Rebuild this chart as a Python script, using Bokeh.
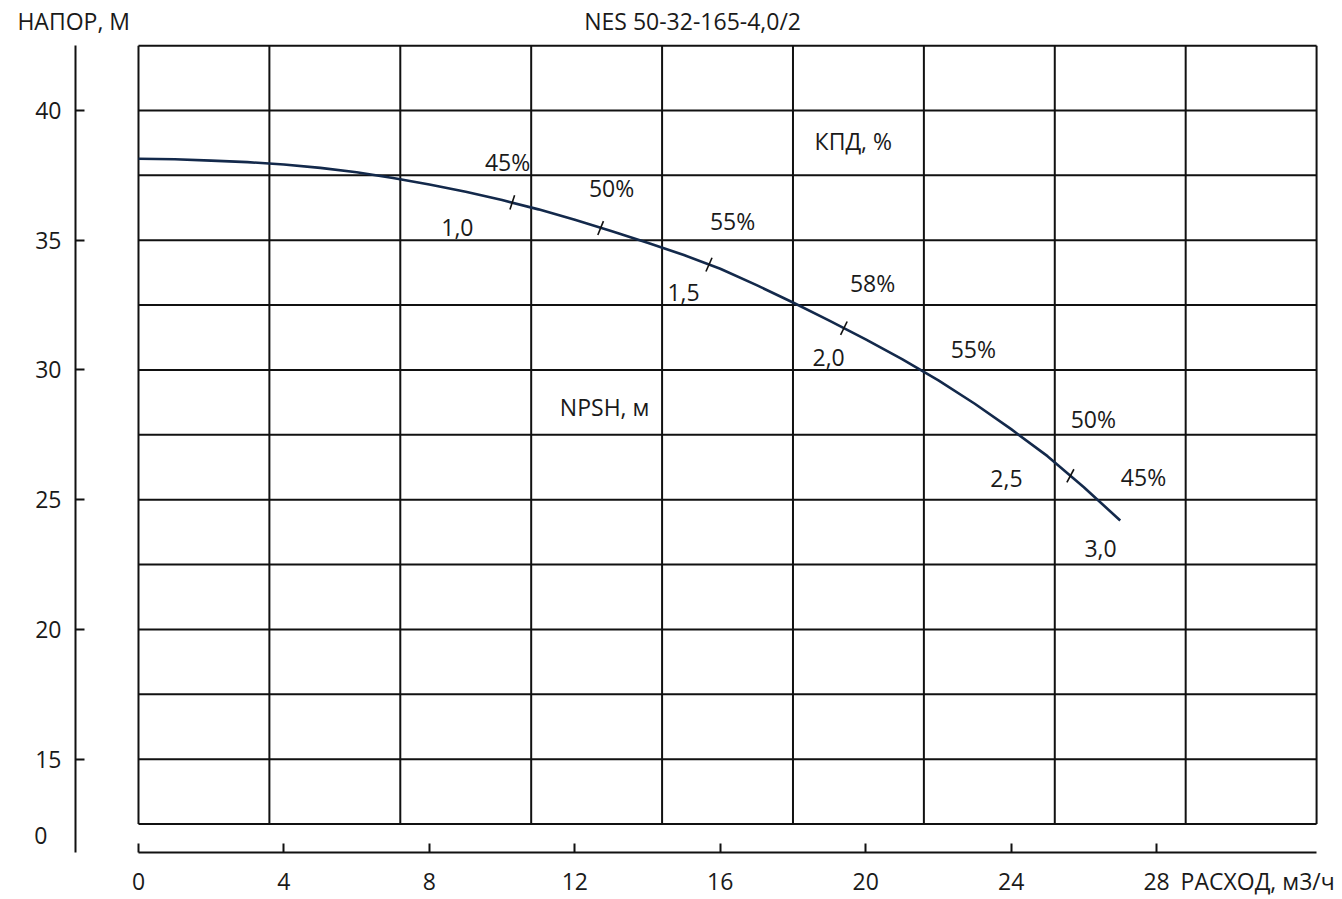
from bokeh.plotting import figure
from bokeh.models import Range1d, FixedTicker, Label, ColumnDataSource
from bokeh.core.properties import value
from bokeh.embed import file_html
from bokeh.resources import INLINE

# --- data ---
flow_q = [0, 1, 2, 3, 4, 5, 6, 7, 8, 9, 10, 11, 12, 13, 14, 15, 16, 17, 18, 19,
          20, 21, 22, 23, 24, 25, 26, 27]
head_h = [38.14, 38.12, 38.07, 38.01, 37.92, 37.79, 37.62, 37.40, 37.15, 36.87,
          36.55, 36.19, 35.79, 35.36, 34.90, 34.43, 33.90, 33.27, 32.60, 31.90,
          31.18, 30.42, 29.60, 28.70, 27.72, 26.68, 25.48, 24.20]

# small marks on the curve (NPSH / efficiency points)
mark_q = [10.28, 12.71, 15.69, 19.40, 25.63]
mark_h = [36.46, 35.47, 34.06, 31.61, 25.92]
mark_angle = [72, 68, 66, 64, 62]

npsh_text = ["1,0", "1,5", "2,0", "2,5", "3,0"]
npsh_x = [8.77, 14.99, 18.98, 23.87, 26.46]
npsh_y = [35.49, 32.99, 30.48, 25.82, 23.12]

eff_text = ["45%", "50%", "55%", "58%", "55%", "50%", "45%"]
eff_x = [10.15, 13.01, 16.34, 20.19, 22.96, 26.26, 27.64]
eff_y = [38.03, 37.03, 35.76, 33.37, 30.79, 28.13, 25.86]

x_ticks = [0, 4, 8, 12, 16, 20, 24, 28]
y_ticks = [15, 20, 25, 30, 35, 40]
grid_x = [3.6 * i for i in range(10)]
grid_y = [12.5 + 2.5 * i for i in range(13)]

FONT = "Open Sans"
FS = "23px"
TXT = "#1a1a1a"
LINE = "#111111"

# frame fills the whole figure; axes are drawn at fixed locations inside it
X0, X1 = -3.795, 33.113
Y0, Y1 = 9.595, 44.239
YAX_AT = -1.733
XAX_AT = 11.407

p = figure(width=1342, height=899, output_backend="svg", toolbar_location=None,
           x_range=Range1d(X0, X1), y_range=Range1d(Y0, Y1),
           min_border_left=0, min_border_top=0, min_border_right=0, min_border_bottom=0)
p.min_border = 0
p.outline_line_color = None
p.xgrid.visible = False
p.ygrid.visible = False
p.background_fill_color = "white"
p.border_fill_color = "white"

# grid box
gx0, gx1 = grid_x[0], grid_x[-1]
gy0, gy1 = grid_y[0], grid_y[-1]
p.segment(x0=grid_x, y0=[gy0] * len(grid_x), x1=grid_x, y1=[gy1] * len(grid_x),
          line_color=LINE, line_width=2)
p.segment(x0=[gx0] * len(grid_y), y0=grid_y, x1=[gx1] * len(grid_y), y1=grid_y,
          line_color=LINE, line_width=2)

# curve
p.line(flow_q, head_h, line_color="#13294b", line_width=2.6, line_join="round")
p.scatter(mark_q, mark_h, marker="dash", size=15, angle=mark_angle, angle_units="deg",
          line_color=LINE, line_width=1.6)

# labels on the chart
src_n = ColumnDataSource(dict(x=npsh_x, y=npsh_y, t=npsh_text))
src_e = ColumnDataSource(dict(x=eff_x, y=eff_y, t=eff_text))
for src in (src_n, src_e):
    p.text(x="x", y="y", text="t", source=src, text_align="center", text_baseline="middle",
           text_font=value(FONT), text_font_size=FS, text_color=TXT)

def lab(x, y, t, align="center", xo=0):
    p.add_layout(Label(x=x, y=y, text=t, text_align=align, text_baseline="middle",
                       text_font=FONT, text_font_size=FS, text_color=TXT, x_offset=xo))

lab(19.66, 38.81, "КПД, %")
lab(12.82, 28.59, "NPSH, м")
lab(15.24, 43.45, "NES 50-32-165-4,0/2")
lab(-3.33, 43.43, "НАПОР, М", align="left")
lab(28, 10.29, "РАСХОД, м3/ч", align="left", xo=24)
lab(YAX_AT, 12.06, "0", align="right", xo=-28)

# axes
xa = p.xaxis[0]
xa.fixed_location = XAX_AT
xa.ticker = FixedTicker(ticks=x_ticks)
xa.bounds = (0, 32.4)
xa.axis_line_width = 2
xa.axis_line_color = LINE
xa.major_tick_in = 9
xa.major_tick_out = 0
xa.major_tick_line_width = 2
xa.major_tick_line_color = LINE
xa.minor_tick_line_color = None
xa.major_label_standoff = 21
xa.major_label_text_font = FONT
xa.major_label_text_font_size = FS
xa.major_label_text_color = TXT

ya = p.yaxis[0]
ya.fixed_location = YAX_AT
ya.ticker = FixedTicker(ticks=y_ticks)
ya.bounds = (XAX_AT, 42.5)
ya.axis_line_width = 2
ya.axis_line_color = LINE
ya.major_tick_in = 9
ya.major_tick_out = 0
ya.major_tick_line_width = 2
ya.major_tick_line_color = LINE
ya.minor_tick_line_color = None
ya.major_label_standoff = 14
ya.major_label_text_font = FONT
ya.major_label_text_font_size = FS
ya.major_label_text_color = TXT

open("out.html", "w").write(file_html(p, INLINE))
